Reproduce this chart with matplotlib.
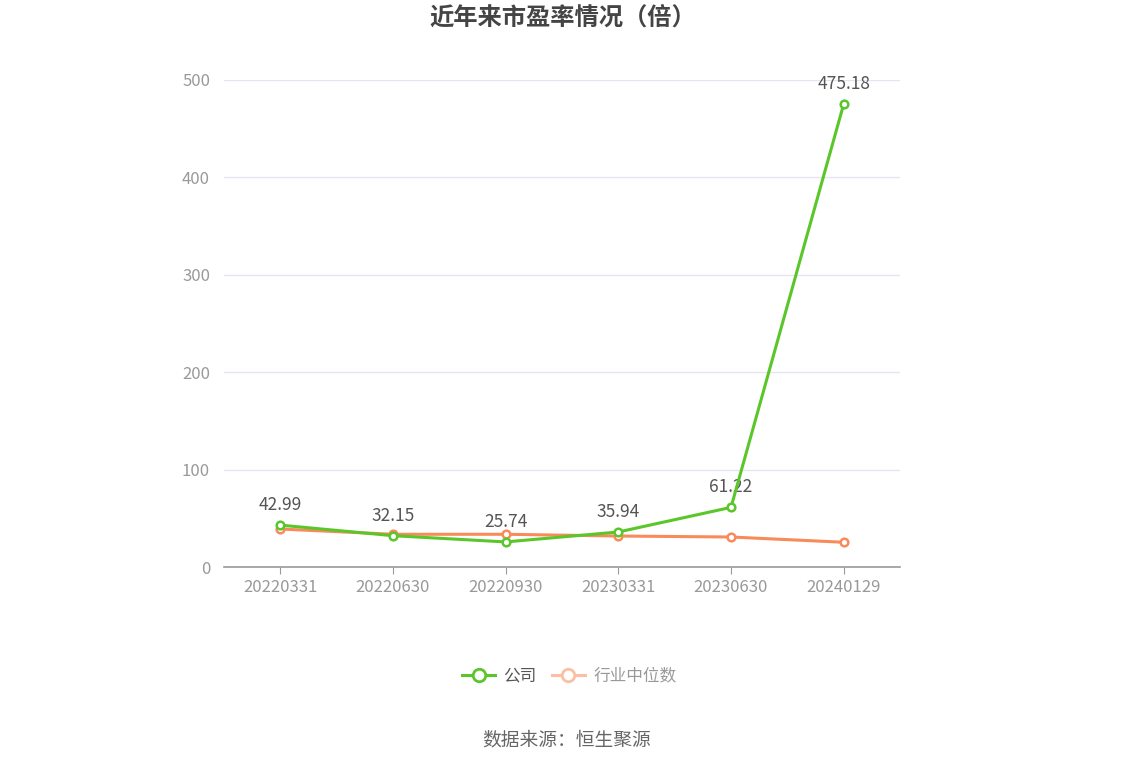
import matplotlib
matplotlib.use("Agg")
import matplotlib.pyplot as plt
from matplotlib.lines import Line2D

plt.rcParams['font.family'] = ['Noto Sans CJK SC', 'DejaVu Sans']

categories = ["20220331", "20220630", "20220930", "20230331", "20230630", "20240129"]
company = [42.99, 32.15, 25.74, 35.94, 61.22, 475.18]
industry = [39.0, 33.6, 33.6, 31.8, 30.8, 25.4]
yticks = [0, 100, 200, 300, 400, 500]

green = "#5BC62A"
orange = "#F98A5A"

fig = plt.figure(figsize=(11.34, 7.66), dpi=100)
ax = fig.add_axes([224/1134, 1 - 567/766, (900-224)/1134, (567-80)/766])

x = list(range(len(categories)))
ax.plot(x, industry, color=orange, lw=2.2, marker='o', ms=5.5, mfc='white',
        mec=orange, mew=1.8, zorder=3)
ax.plot(x, company, color=green, lw=2.2, marker='o', ms=5.5, mfc='white',
        mec=green, mew=1.8, zorder=4)

for xi, v in zip(x, company):
    ax.annotate(f"{v:.2f}", (xi, v), xytext=(0, 8), textcoords='offset points',
                ha='center', va='bottom', fontsize=12.5, color='#555555')

ax.set_xlim(-0.5, len(categories) - 0.5)
ax.set_ylim(0, 500)
ax.set_yticks(yticks)
ax.set_yticklabels([str(t) for t in yticks])
ax.set_xticks(x)
ax.set_xticklabels(categories)
ax.tick_params(axis='y', length=0, labelsize=12, labelcolor='#999999', pad=10)
ax.tick_params(axis='x', length=5, color='#999999', labelsize=12, labelcolor='#999999', pad=4)
ax.grid(axis='y', color='#E3E6F0', lw=1)
ax.set_axisbelow(True)
for s in ['top', 'right', 'left']:
    ax.spines[s].set_visible(False)
ax.spines['bottom'].set_color('#999999')
ax.spines['bottom'].set_linewidth(1.2)

fig.text(0.496, 1 - 19/766, "近年来市盈率情况（倍）", ha='center', va='center',
         fontsize=17.5, fontweight='bold', color='#444444')

handles = [
    Line2D([0], [0], color=green, lw=2.2, marker='o', ms=9, mfc='white', mec=green, mew=2),
    Line2D([0], [0], color='#FBC0A3', lw=2.2, marker='o', ms=9, mfc='white', mec='#FBC0A3', mew=2),
]
leg = fig.legend(handles, ["公司", "行业中位数"], loc='center', bbox_to_anchor=(0.502, 1 - 676/766),
                 ncol=2, frameon=False, fontsize=12, handlelength=2.0, columnspacing=0.9,
                 handletextpad=0.5)
leg.get_texts()[0].set_color('#555555')
leg.get_texts()[1].set_color('#999999')

fig.text(0.5, 1 - 740/766, "数据来源：恒生聚源", ha='center', va='center',
         fontsize=13.5, color='#666666')

fig.savefig("out.png", dpi=100, facecolor='white')
